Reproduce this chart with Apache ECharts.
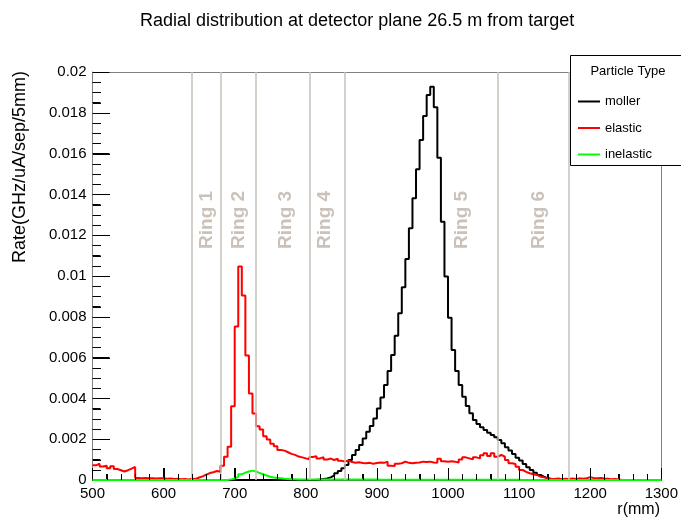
<!DOCTYPE html>
<html>
<head>
<meta charset="utf-8">
<script src="https://cdn.jsdelivr.net/npm/echarts@6/dist/echarts.min.js"></script>
<style>
html,body{margin:0;padding:0;background:#fff;}
#chart{width:681px;height:518px;background:#fff;}
</style>
</head>
<body>
<div id="chart"></div>
<script>
// ---- data ----
const binStart = 500;
const binWidth = 5;
const seriesNames = ['moller', 'elastic', 'inelastic'];
const seriesColors = ['#000000', '#ff0000', '#00ff00'];

const moller = [
  0,0,0,0,0,0,0,0,0,0,
  0,0,0,0,0,0,0,0,0,0,
  0,0,0,0,0,0,0,0,0,0,
  0,0,0,0,0,0,0,0,0,0,
  0,0,0,0,0,0,0,0,0,0,
  0,0,0,0,0,0,0,0,0,0,
  0,0,0,0.00002,0.00005,0.00008,0.00013,0.00022,0.00033,0.00044,
  0.00057,0.00074,0.00098,0.00123,0.00147,0.00172,0.00204,0.00237,0.00265,0.00302,
  0.00351,0.00405,0.00466,0.00534,0.00613,0.00707,0.00817,0.00945,0.01083,0.01234,
  0.01381,0.01523,0.01667,0.01784,0.01887,0.01928,0.01827,0.01580,0.01266,0.00997,
  0.00795,0.00637,0.00534,0.00466,0.00408,0.00363,0.00327,0.00294,0.00275,0.00258,
  0.00245,0.00232,0.00221,0.00209,0.00196,0.00180,0.00160,0.00144,0.00127,0.00109,
  0.00095,0.00078,0.00062,0.00049,0.00036,0.00025,0.00016,0.00009,0.00005,0,
  0,0,0,0,0,0,0,0,0,0,
  0,0,0,0,0,0,0,0,0,0,
  0,0,0,0,0,0,0,0,0,0
];

const elastic = [
  0.00072,0.00080,0.00066,0.00070,0.00058,0.00068,0.00054,0.00048,0.00042,0.00048,
  0.00056,0.00064,0.00010,0.00009,0.00010,0.00008,0.00009,0.00007,0.00009,0.00008,
  0.00006,0.00007,0.00005,0.00006,0.00004,0.00005,0.00003,0.00006,0.00005,0.00012,
  0.00018,0.00026,0.00034,0.00038,0.00044,0.00040,0.00070,0.00114,0.00163,0.00362,
  0.00752,0.01046,0.00905,0.00610,0.00424,0.00326,0.00264,0.00248,0.00215,0.00198,
  0.00178,0.00166,0.00147,0.00144,0.00136,0.00128,0.00123,0.00115,0.00111,0.00106,
  0.00101,0.00113,0.00117,0.00106,0.00112,0.00100,0.00105,0.00098,0.00104,0.00094,
  0.00090,0.00096,0.00088,0.00085,0.00087,0.00083,0.00082,0.00084,0.00080,0.00083,
  0.00086,0.00084,0.00090,0.00070,0.00068,0.00080,0.00082,0.00090,0.00084,0.00082,
  0.00085,0.00086,0.00090,0.00088,0.00090,0.00086,0.00085,0.00104,0.00092,0.00090,
  0.00092,0.00090,0.00085,0.00101,0.00111,0.00106,0.00101,0.00111,0.00106,0.00121,
  0.00131,0.00118,0.00131,0.00114,0.00123,0.00114,0.00098,0.00082,0.00078,0.00065,
  0.00049,0.00040,0.00033,0.00028,0.00025,0.00016,0.00013,0.00008,0.00006,0.00005,
  0.00007,0.00004,0.00006,0.00005,0.00007,0.00005,0.00008,0.00006,0.00009,0.00014,
  0.00010,0.00008,0.00010,0.00007,0.00006,0.00004,0.00005,0.00003,0,0,
  0,0,0,0,0,0,0,0,0,0
];

const inelastic = [
  0,0,0,0,0,0,0,0,0,0,
  0,0,0,0,0,0,0,0,0,0,
  0,0,0,0,0,0,0,0,0,0,
  0,0,0,0,0,0,0,0,0.00003,0.00007,
  0.00016,0.00028,0.00036,0.00042,0.00046,0.00042,0.00034,0.00028,0.00022,0.00016,
  0.00012,0.00010,0.00008,0.00006,0.00005,0.00004,0.00004,0.00003,0.00003,0.00003,
  0.00003,0.00002,0.00002,0.00002,0.00002,0.00002,0.00002,0.00002,0.00002,0.00002,
  0.00002,0.00002,0.00002,0.00002,0.00002,0.00002,0.00002,0.00002,0.00002,0.00002,
  0.00001,0.00001,0.00001,0.00001,0.00001,0.00001,0.00001,0.00001,0.00001,0.00001,
  0.00001,0.00001,0.00001,0.00001,0.00001,0.00001,0.00001,0.00001,0.00001,0.00001,
  0.00001,0.00001,0.00001,0.00001,0.00001,0.00001,0.00001,0.00001,0.00001,0.00001,
  0.00001,0.00001,0.00001,0.00001,0.00001,0.00001,0.00001,0.00001,0.00001,0.00001,
  0,0,0,0,0,0,0,0,0,0,
  0,0,0,0,0,0,0,0,0,0,
  0,0,0,0,0,0,0,0,0,0,
  0,0,0,0,0,0,0,0,0,0
];

const ringEdges = [640, 680, 730, 805, 855, 1070, 1170];
const ringNames = ['Ring 1', 'Ring 2', 'Ring 3', 'Ring 4', 'Ring 5', 'Ring 6'];
const ringLabelX = [661, 706, 772, 826, 1019, 1128];
const ringLabelY = 0.01275;

const xMin = 500, xMax = 1300, xStep = 100, xMinorDiv = 5;
const yMin = 0, yMax = 0.02, yStep = 0.002, yMinorDiv = 4;

// ---- build ----
function toSteps(vals) {
  const pts = vals.map((v, i) => [binStart + i * binWidth, v]);
  pts.push([binStart + vals.length * binWidth, vals[vals.length - 1]]);
  return pts;
}
const histData = [moller, elastic, inelastic];
const FONT = 'Liberation Sans, Arial, Helvetica, sans-serif';

const chart = echarts.init(document.getElementById('chart'));

const series = [];
series.push({
  name: 'rings',
  type: 'scatter',
  z: 1,
  symbolSize: 0,
  silent: true,
  data: ringNames.map((n, i) => ({name: n, value: [ringLabelX[i], ringLabelY]})),
  label: {
    show: true, position: 'inside', rotate: 90, formatter: '{b}',
    color: '#bdb3a9', fontSize: 19, fontWeight: 'bold', fontFamily: FONT
  },
  markLine: {
    silent: true, symbol: 'none',
    label: {show: false},
    lineStyle: {color: '#c9c1b9', width: 1.5, type: 'solid'},
    data: ringEdges.map(e => ({xAxis: e}))
  }
});
seriesNames.forEach((n, k) => {
  series.push({
    name: n,
    type: 'line',
    step: 'end',
    symbol: 'none',
    z: 2 + k,
    silent: true,
    data: toSteps(histData[k]),
    lineStyle: {color: seriesColors[k], width: 2},
    itemStyle: {color: seriesColors[k]}
  });
});

const baseGraphic = [
  {
    id: 'legendBox', type: 'rect', z: 50,
    shape: {x: 570.5, y: 55.5, width: 130, height: 110},
    style: {fill: '#ffffff', stroke: '#000000', lineWidth: 1}
  },
  {
    id: 'legendTitle', type: 'text', z: 60,
    x: 628, y: 71,
    style: {text: 'Particle Type', fill: '#000', font: '13px ' + FONT, textAlign: 'center', textVerticalAlign: 'middle'}
  },
  {
    id: 'yName', type: 'text', z: 60,
    x: 20, y: 167, rotation: Math.PI / 2,
    style: {text: 'Rate(GHz/uA/sep/5mm)', fill: '#000', font: '18px ' + FONT, textAlign: 'center', textVerticalAlign: 'middle'}
  },
  {
    id: 'xName', type: 'text', z: 60,
    x: 660, y: 510,
    style: {text: 'r(mm)', fill: '#000', font: '16px ' + FONT, textAlign: 'right', textVerticalAlign: 'middle'}
  }
];

chart.setOption({
  animation: false,
  title: {
    text: 'Radial distribution at detector plane 26.5 m from target',
    left: 135, top: 7,
    textStyle: {fontSize: 18, fontWeight: 'normal', color: '#000', fontFamily: FONT}
  },
  grid: {left: 92.5, right: 19, top: 72, bottom: 38},
  legend: {
    data: seriesNames,
    orient: 'vertical',
    left: 573, top: 90,
    icon: 'path://M0,0H22V2H0Z',
    itemWidth: 22, itemHeight: 14, itemGap: 13.5,
    z: 60,
    selectedMode: false,
    textStyle: {fontSize: 13, color: '#000', fontFamily: FONT}
  },
  xAxis: [
    {
      type: 'value', min: xMin, max: xMax, interval: xStep,
      axisLine: {show: true, onZero: false, lineStyle: {color: '#606060', width: 1}},
      axisTick: {show: true, inside: true, length: 12, lineStyle: {color: '#000', width: 1}},
      minorTick: {show: true, splitNumber: xMinorDiv, length: 6, lineStyle: {color: '#000', width: 1}},
      splitLine: {show: false},
      axisLabel: {fontSize: 15, color: '#000', margin: 6, fontFamily: FONT, formatter: v => String(v)}
    },
    {
      type: 'value', min: xMin, max: xMax, interval: xStep, position: 'top',
      axisLine: {show: true, onZero: false, lineStyle: {color: '#808080', width: 1}},
      axisTick: {show: false}, minorTick: {show: false},
      splitLine: {show: false}, axisLabel: {show: false}
    }
  ],
  yAxis: [
    {
      type: 'value', min: yMin, max: yMax, interval: yStep,
      axisLine: {show: true, onZero: false, lineStyle: {color: '#808080', width: 1}},
      axisTick: {show: true, inside: true, length: 17, lineStyle: {color: '#000', width: 1}},
      minorTick: {show: true, splitNumber: yMinorDiv, length: 8, lineStyle: {color: '#000', width: 1}},
      splitLine: {show: false},
      axisLabel: {
        fontSize: 15, color: '#000', margin: 6, fontFamily: FONT,
        formatter: v => String(parseFloat(v.toFixed(4)))
      }
    },
    {
      type: 'value', min: yMin, max: yMax, interval: yStep, position: 'right',
      axisLine: {show: true, onZero: false, lineStyle: {color: '#808080', width: 1}},
      axisTick: {show: false}, minorTick: {show: false},
      splitLine: {show: false}, axisLabel: {show: false}
    }
  ],
  graphic: baseGraphic,
  series: series
});

// Tick marks placed through the axis scales (convertToPixel), drawn as graphic lines on top.
const tickEls = [];
const finder = {xAxisIndex: 0, yAxisIndex: 0};
const nx = Math.round((xMax - xMin) / xStep) * xMinorDiv;
for (let i = 1; i < nx; i++) {
  const v = xMin + i * xStep / xMinorDiv;
  const p = chart.convertToPixel(finder, [v, yMin]);
  if (!p) continue;
  const len = (i % xMinorDiv === 0) ? 12 : 6;
  const x = Math.round(p[0]) + 0.5, y = Math.round(p[1]);
  tickEls.push({type: 'line', z: 100, silent: true,
    shape: {x1: x, y1: y, x2: x, y2: y - len}, style: {stroke: '#000', lineWidth: 1}});
}
const ny = Math.round((yMax - yMin) / yStep) * yMinorDiv;
for (let j = 1; j < ny; j++) {
  const v = yMin + j * yStep / yMinorDiv;
  const p = chart.convertToPixel(finder, [xMin, v]);
  if (!p) continue;
  const len = (j % yMinorDiv === 0) ? 17 : 8;
  const x = Math.round(p[0]), y = Math.round(p[1]) + 0.5;
  tickEls.push({type: 'line', z: 100, silent: true,
    shape: {x1: x, y1: y, x2: x + len, y2: y}, style: {stroke: '#000', lineWidth: 1}});
}
chart.setOption({graphic: baseGraphic.concat(tickEls)});
</script>
</body>
</html>
